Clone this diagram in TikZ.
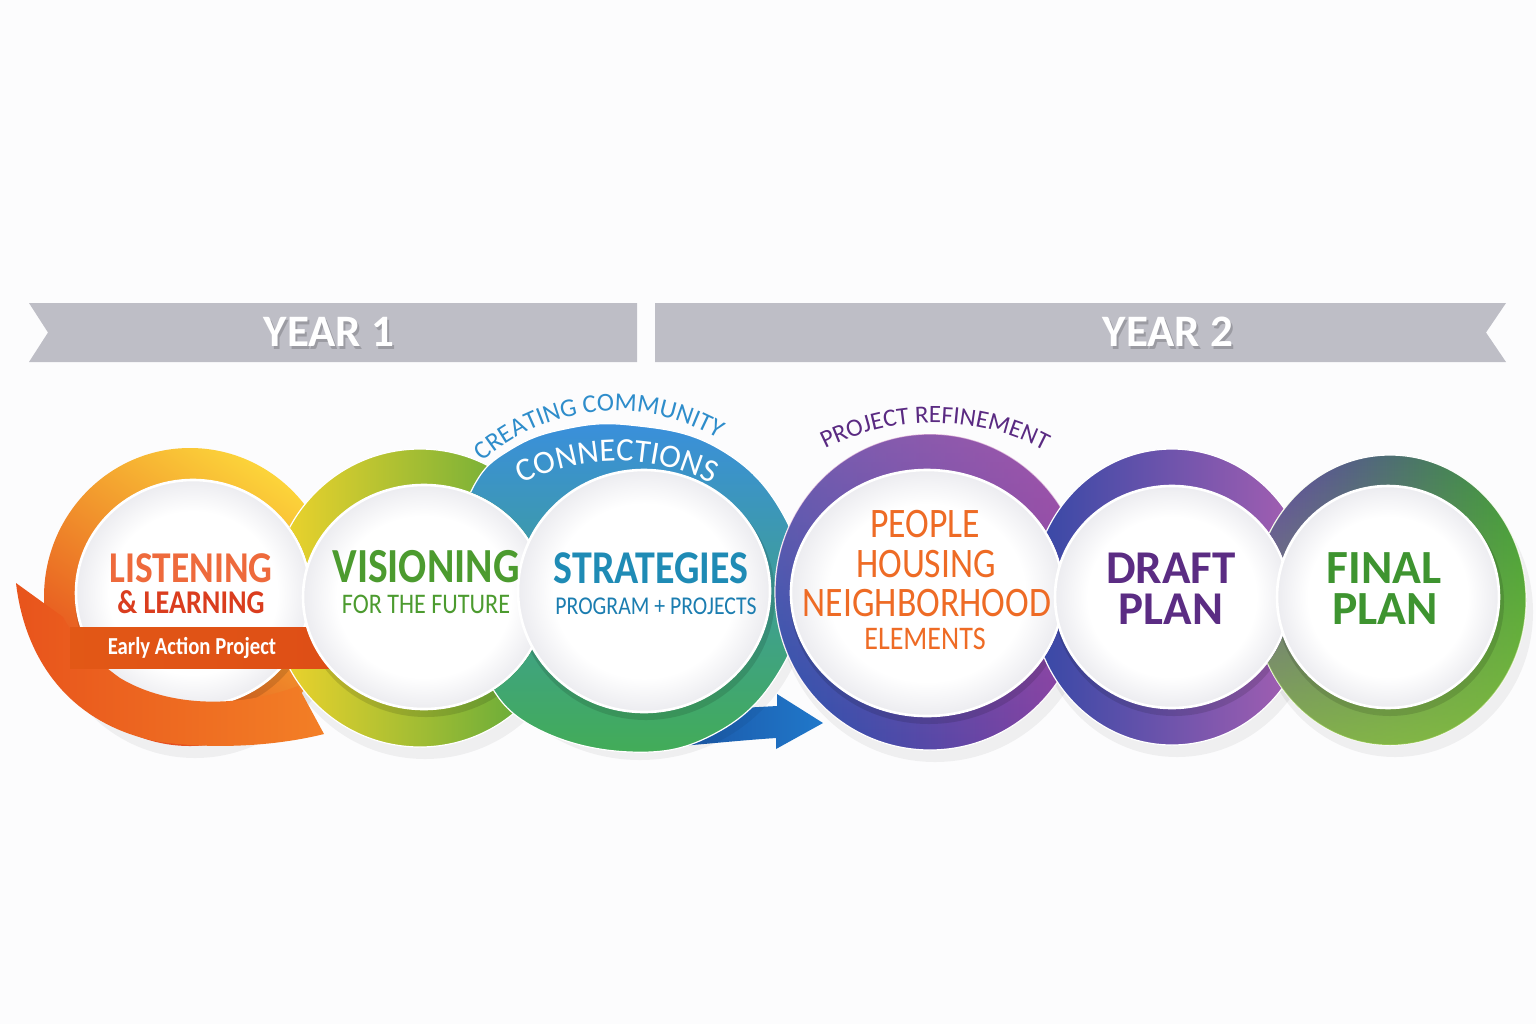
\documentclass[tikz,border=0pt]{standalone}
\usepackage{fontspec}
\setmainfont{Carlito}
\newfontfamily\cf[FakeStretch=0.85]{Carlito}
\usetikzlibrary{decorations.text,fadings}
\definecolor{bgcol}{HTML}{FCFCFD}
\definecolor{bannergray}{HTML}{BEBEC6}
\definecolor{discedge}{HTML}{ECECF0}
\definecolor{listc}{HTML}{EE6A3C}
\definecolor{learnc}{HTML}{DA3D1E}
\definecolor{visc}{HTML}{4C9B2F}
\definecolor{stratc}{HTML}{1F8BB5}
\definecolor{progc}{HTML}{1B7DB0}
\definecolor{peoplec}{HTML}{EE6B25}
\definecolor{draftc}{HTML}{5B2C83}
\definecolor{finalc}{HTML}{3E9430}
\definecolor{ccblue}{HTML}{2E8DCB}
\definecolor{refc}{HTML}{5A2A82}
\definecolor{ygreen}{HTML}{8CC23F}
\definecolor{pinkc}{HTML}{B868B2}
\pgfdeclareradialshading{whitedisc}{\pgfpoint{0bp}{0bp}}{color(0bp)=(white); color(18bp)=(white); color(25bp)=(discedge); color(50bp)=(discedge)}
\begin{document}
\begin{tikzpicture}[x=0.5pt,y=0.5pt,
  t/.style={anchor=base,inner sep=0pt},
  yeartxt/.style={t,font=\bfseries\fontsize{22.5}{24}\selectfont,text=white},
  yearshadow/.style={t,font=\bfseries\fontsize{22.5}{24}\selectfont,text=black,opacity=0.18},
  rshadow/.style={fill=black,opacity=0.05},
  dshadow/.style={fill=black,opacity=0.12},
  wdisc/.style={shading=whitedisc},
  rim/.style={draw=white,line width=1.3pt},
  ringedge/.style={draw=white,line width=0.6pt}
]
\useasboundingbox (0,0) rectangle (1536,-1024);
\fill[bgcol] (0,0) rectangle (1536,-1024);

% year banners
\fill[bannergray] (29,-303) -- (637,-303) -- (637,-362) -- (29,-362) -- (48,-332.5) -- cycle;
\fill[bannergray] (655,-303) -- (1506,-303) -- (1486,-332.5) -- (1506,-362) -- (655,-362) -- cycle;
\node[yearshadow] at (331,-349) {YEAR 1};
\node[yeartxt] (y1) at (329,-346) {YEAR 1};
\node[yearshadow] at (1170,-349) {YEAR 2};
\node[yeartxt] (y2) at (1168,-346) {YEAR 2};

% blue arrow
\shade[left color={rgb,255:red,26;green,80;blue,160}, right color={rgb,255:red,32;green,120;blue,202}]
  (650,-713) -- (777,-706) -- (777,-694) -- (823,-723) -- (776,-749) -- (776,-738)
  .. controls (730,-741) and (690,-746) .. (650,-748) -- cycle;

% ring shadows
\fill[rshadow] (195,-609) ellipse [x radius=148, y radius=149];
\fill[rshadow] (425,-610) ellipse [x radius=150, y radius=149];
\fill[rshadow] (640,-600) ellipse [x radius=168, y radius=160];
\fill[rshadow] (935,-604) ellipse [x radius=157, y radius=158];
\fill[rshadow] (1177,-609) ellipse [x radius=142, y radius=148];
\fill[rshadow] (1395,-612) ellipse [x radius=138, y radius=145];

% ===== ring 1 + disc 1
\shade[top color={rgb,255:red,252;green,212;blue,58}, middle color={rgb,255:red,242;green,132;blue,40}, bottom color={rgb,255:red,228;green,70;blue,28}, shading angle=-35]
  (190,-597) ellipse [x radius=146, y radius=149];
\fill[dshadow] (195,-598) ellipse [x radius=120, y radius=116];
\shade[wdisc] (193,-593) ellipse [x radius=117, y radius=113];
\draw[rim] (193,-593) ellipse [x radius=117, y radius=113];

% orange swoosh
\shade[left color={rgb,255:red,232;green,84;blue,28}, right color={rgb,255:red,243;green,127;blue,38}]
  (16,-583) .. controls (25,-660) and (70,-725) .. (160,-742)
  .. controls (220,-750) and (280,-745) .. (324,-734) -- (298,-686)
  .. controls (240,-708) and (170,-708) .. (120,-678)
  .. controls (95,-660) and (75,-640) .. (63,-617) -- cycle;

% ===== ring 2 + disc 2
\begin{scope}[even odd rule]
\clip (-10,10) rectangle (1546,-1034) (193,-593) ellipse [x radius=118.3, y radius=114.3];
\shade[ringedge,left color={rgb,255:red,242;green,212;blue,43}, middle color={rgb,255:red,170;green,200;blue,70}, right color={rgb,255:red,80;green,165;blue,60}]
  (420,-598) ellipse [x radius=148, y radius=149];
\fill[dshadow] (426,-602) ellipse [x radius=124, y radius=115];
\end{scope}
% early action banner
\shade[left color={rgb,255:red,226;green,88;blue,22}, middle color={rgb,255:red,240;green,121;blue,31}, right color={rgb,255:red,222;green,78;blue,22}]
  (70,-627) rectangle (336,-668);
\shade[wdisc] (424,-597) ellipse [x radius=121, y radius=112];
\draw[rim] (424,-597) ellipse [x radius=121, y radius=112];

% ===== ring 3 + disc 3
\begin{scope}[even odd rule]
\clip (-10,10) rectangle (1546,-1034) (424,-597) ellipse [x radius=122.3, y radius=113.3];
\shade[ringedge,top color={rgb,255:red,58;green,143;blue,220}, middle color={rgb,255:red,44;green,151;blue,176}, bottom color={rgb,255:red,66;green,172;blue,87}]
  plot[smooth cycle, tension=0.7] coordinates {(802,-592) (780,-509) (716,-447) (630,-425) (560,-430) (508,-451) (476,-482) (462,-530) (462,-600) (482,-670) (532,-726) (630,-752) (716,-733) (779,-672)};
\fill[dshadow] (646,-596) ellipse [x radius=129, y radius=124];
\end{scope}
\shade[wdisc] (644,-591) ellipse [x radius=126, y radius=121];
\draw[rim] (644,-591) ellipse [x radius=126, y radius=121];

% ===== ring 4 + disc 4
\begin{scope}[even odd rule]
\clip (-10,10) rectangle (1546,-1034) (644,-591) ellipse [x radius=127.3, y radius=122.3];
\shade[ringedge,left color={rgb,255:red,34;green,83;blue,174}, middle color={rgb,255:red,100;green,70;blue,170}, right color={rgb,255:red,140;green,62;blue,160}]
  (930,-592) ellipse [x radius=155, y radius=158];
\fill[pinkc, path fading=south, opacity=0.55] (930,-592) ellipse [x radius=155, y radius=158];
\fill[dshadow] (929,-598) ellipse [x radius=139, y radius=126];
\end{scope}
\shade[wdisc] (927,-593) ellipse [x radius=136, y radius=123];
\draw[rim] (927,-593) ellipse [x radius=136, y radius=123];

% ===== ring 5 + disc 5
\begin{scope}[even odd rule]
\clip (-10,10) rectangle (1546,-1034) (927,-593) ellipse [x radius=137.3, y radius=124.3];
\shade[ringedge,left color={rgb,255:red,53;green,72;blue,166}, middle color={rgb,255:red,110;green,80;blue,176}, right color={rgb,255:red,170;green,96;blue,178}]
  (1172,-597) ellipse [x radius=140, y radius=148];
\fill[dshadow] (1174,-602) ellipse [x radius=120, y radius=114];
\end{scope}
\shade[wdisc] (1172,-597) ellipse [x radius=117, y radius=111];
\draw[rim] (1172,-597) ellipse [x radius=117, y radius=111];

% ===== ring 6 + disc 6
\begin{scope}[even odd rule]
\clip (-10,10) rectangle (1546,-1034) (1172,-597) ellipse [x radius=118.3, y radius=112.3];
\shade[ringedge,left color={rgb,255:red,98;green,64;blue,176}, middle color={rgb,255:red,112;green,150;blue,130}, right color={rgb,255:red,58;green,156;blue,54}]
  (1390,-600) ellipse [x radius=136, y radius=145];
\fill[ygreen, path fading=north, opacity=0.85] (1390,-600) ellipse [x radius=136, y radius=145];
\fill[dshadow] (1390,-602) ellipse [x radius=114, y radius=114];
\end{scope}
\shade[wdisc] (1388,-597) ellipse [x radius=111, y radius=111];
\draw[rim] (1388,-597) ellipse [x radius=111, y radius=111];

% texts
\node[t,font=\cf\bfseries\fontsize{22}{24}\selectfont,text=listc] (listening) at (191,-582) {LISTENING};
\node[t,font=\cf\bfseries\fontsize{16.6}{18}\selectfont,text=learnc] (learning) at (191,-613) {\&~LEARNING};
\node[t,font=\cf\bfseries\fontsize{12.2}{14}\selectfont,text=white] (eap) at (192,-654) {Early Action Project};

\node[t,font=\cf\bfseries\fontsize{24.5}{26}\selectfont,text=visc] (visioning) at (426,-582) {VISIONING};
\node[t,font=\cf\fontsize{14.2}{15}\selectfont,text=visc] (future) at (426,-613) {FOR THE FUTURE};

\node[t,font=\cf\bfseries\fontsize{23.5}{25}\selectfont,text=stratc] (strategies) at (651,-583) {STRATEGIES};
\node[t,font=\cf\fontsize{12.8}{14}\selectfont,text=progc] (program) at (656,-614) {PROGRAM + PROJECTS};

\node[t,font=\cf\fontsize{21}{22}\selectfont,text=peoplec] (people) at (925,-537) {PEOPLE};
\node[t,font=\cf\fontsize{21}{22}\selectfont,text=peoplec] (housing) at (926,-577) {HOUSING};
\node[t,font=\cf\fontsize{21}{22}\selectfont,text=peoplec] (neigh) at (927,-616) {NEIGHBORHOOD};
\node[t,font=\cf\fontsize{16.5}{18}\selectfont,text=peoplec] (elements) at (925,-649) {ELEMENTS};

\node[t,font=\bfseries\fontsize{23.5}{25}\selectfont,text=draftc] (draft) at (1171,-583) {DRAFT};
\node[t,font=\bfseries\fontsize{23.5}{25}\selectfont,text=draftc] (dplan) at (1171,-624) {PLAN};
\node[t,font=\bfseries\fontsize{23.8}{25}\selectfont,text=finalc] (final) at (1384,-583) {FINAL};
\node[t,font=\bfseries\fontsize{23.8}{25}\selectfont,text=finalc] (fplan) at (1385,-624) {PLAN};

% arc texts
\path[decorate,decoration={text along path,text align=center,
  text={|\fontsize{12.9}{14}\selectfont\color{ccblue}|CREATING COMMUNITY}}]
  (616,-611) ++(134:200) arc[start angle=134,end angle=57,radius=200];
\path[decorate,decoration={text along path,text align=center,
  text={|\fontsize{16.4}{18}\selectfont\color{white}|CONNECTIONS}}]
  (617,-673) ++(119:212) arc[start angle=119,end angle=61,radius=212];
\path[decorate,decoration={text along path,text align=center,
  text={|\fontsize{12.5}{14}\selectfont\color{refc}|PROJECT REFINEMENT}}]
  (933,-661) ++(119:238) arc[start angle=119,end angle=60,radius=238];
\end{tikzpicture}
\end{document}
